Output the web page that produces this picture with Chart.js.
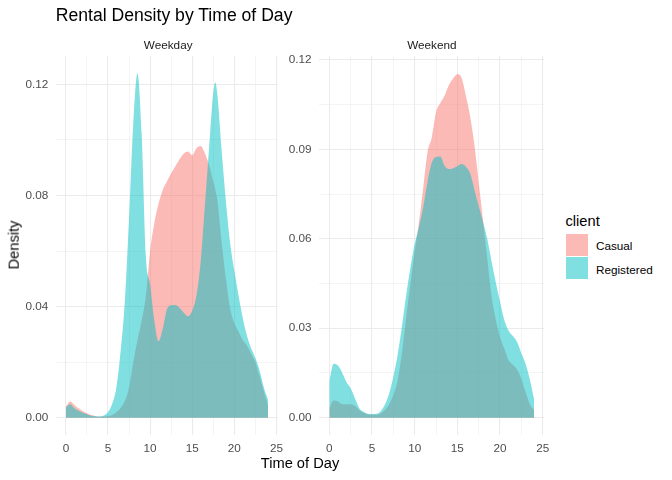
<!DOCTYPE html>
<html>
<head>
<meta charset="utf-8">
<script src="https://cdn.jsdelivr.net/npm/chart.js@4.4.1/dist/chart.umd.min.js"></script>
<style>
  body { margin: 0; background: #fff; font-family: "Liberation Sans", Arial, sans-serif; }
  #wrap { position: relative; width: 672px; height: 480px; overflow: hidden; background: #fff; }
  canvas { position: absolute; top: 0; }
  .txt { position: absolute; white-space: nowrap; line-height: 1; }
  .key { position: absolute; width: 22.3px; height: 21.7px; }
</style>
</head>
<body>
<div id="wrap">
  <canvas id="weekday" width="290" height="480" style="left:0px"></canvas>
  <canvas id="weekend" width="280" height="480" style="left:280px"></canvas>

  <div class="txt" style="left:55.8px; top:7.4px; font-size:17.6px; color:#000;">Rental Density by Time of Day</div>
  <div class="txt" style="left:168.2px; top:38.5px; font-size:11.73px; color:#1a1a1a; transform:translateX(-50%);">Weekday</div>
  <div class="txt" style="left:431.8px; top:38.5px; font-size:11.73px; color:#1a1a1a; transform:translateX(-50%);">Weekend</div>
  <div class="txt" style="left:13.6px; top:245.2px; font-size:14.67px; color:#000; transform:translate(-50%,-50%) rotate(-90deg);">Density</div>
  <div class="txt" style="left:300px; top:455.8px; font-size:14.67px; color:#000; transform:translateX(-50%);">Time of Day</div>

  <div class="txt" style="left:565.5px; top:213.6px; font-size:14.67px; color:#000;">client</div>
  <div class="key" style="left:566px; top:234px; background:rgba(248,118,109,0.5);"></div>
  <div class="key" style="left:566px; top:257.3px; background:rgba(0,191,196,0.5);"></div>
  <div class="txt" style="left:596px; top:240.3px; font-size:11.73px; color:#000;">Casual</div>
  <div class="txt" style="left:596px; top:264px; font-size:11.73px; color:#000;">Registered</div>
</div>

<script>
// hour of day (x) for each panel
const weekdayHours = [0, 0.5, 1, 1.5, 2, 2.5, 3, 3.5, 4, 4.5,
  5, 5.5, 6, 6.5, 7, 7.5, 8, 8.5, 9, 9.5,
  10, 10.5, 11, 11.5, 12, 12.5, 13, 13.5, 14, 14.5,
  15, 15.5, 16, 16.5, 17, 17.5, 17.75, 18, 18.5, 19,
  19.5, 20, 20.5, 21, 21.5, 22, 22.5, 23, 23.5, 24];

const weekdayCasual = [0.0040, 0.0058, 0.0046, 0.0034, 0.0024, 0.0016, 0.0010, 0.0006, 0.0004, 0.0004,
  0.0006, 0.0010, 0.0020, 0.0035, 0.0060, 0.0110, 0.0200, 0.0280, 0.0350, 0.0440,
  0.0600, 0.0700, 0.0770, 0.0820, 0.0850, 0.0880, 0.0905, 0.0930, 0.0950, 0.0958,
  0.0945, 0.0970, 0.0978, 0.0952, 0.0910, 0.0850, 0.0820, 0.0780, 0.0630, 0.0500,
  0.0395, 0.0340, 0.0310, 0.0280, 0.0260, 0.0230, 0.0200, 0.0150, 0.0095, 0.0045];

const weekdayRegistered = [0.0036, 0.0048, 0.0034, 0.0025, 0.0018, 0.0012, 0.0007, 0.0005, 0.0004, 0.0008,
  0.0020, 0.0050, 0.0110, 0.0240, 0.0420, 0.0720, 0.1060, 0.1240, 0.1020, 0.0580,
  0.0480, 0.0350, 0.0275, 0.0320, 0.0390, 0.0405, 0.0406, 0.0395, 0.0378, 0.0365,
  0.0385, 0.0440, 0.0560, 0.0760, 0.0970, 0.1170, 0.1207, 0.1160, 0.0960, 0.0780,
  0.0630, 0.0530, 0.0440, 0.0360, 0.0295, 0.0250, 0.0215, 0.0170, 0.0110, 0.0065];

const weekendHours = [0, 0.5, 1, 1.5, 2, 2.5, 3, 3.5, 4, 4.5,
  5, 5.5, 6, 6.5, 7, 7.5, 8, 8.5, 9, 9.5,
  10, 10.5, 11, 11.5, 12, 12.5, 13, 13.5, 14, 14.5,
  15, 15.5, 16, 16.5, 17, 17.5, 18, 18.5, 19, 19.5,
  20, 20.5, 21, 21.5, 22, 22.5, 23, 23.5, 24];

const weekendCasual = [0.0032, 0.0058, 0.0055, 0.0045, 0.0045, 0.0045, 0.0040, 0.0026, 0.0017, 0.0011,
  0.0010, 0.0010, 0.0014, 0.0026, 0.0044, 0.0076, 0.0125, 0.0215, 0.0335, 0.0450,
  0.0555, 0.0655, 0.0770, 0.0890, 0.0940, 0.1025, 0.1055, 0.1080, 0.1115, 0.1138,
  0.1152, 0.1140, 0.1080, 0.1010, 0.0915, 0.0790, 0.0663, 0.0535, 0.0410, 0.0330,
  0.0270, 0.0232, 0.0193, 0.0178, 0.0162, 0.0130, 0.0085, 0.0045, 0.0025];

const weekendRegistered = [0.0121, 0.0181, 0.0175, 0.0151, 0.0120, 0.0099, 0.0065, 0.0032, 0.0020, 0.0013,
  0.0012, 0.0013, 0.0021, 0.0043, 0.0080, 0.0137, 0.0210, 0.0305, 0.0410, 0.0503,
  0.0582, 0.0640, 0.0706, 0.0790, 0.0855, 0.0875, 0.0876, 0.0845, 0.0834, 0.0837,
  0.0844, 0.0851, 0.0842, 0.0820, 0.0765, 0.0710, 0.0657, 0.0600, 0.0526, 0.0454,
  0.0389, 0.0328, 0.0292, 0.0274, 0.0254, 0.0216, 0.0180, 0.0127, 0.0060];

const clientNames = ['Casual', 'Registered'];
const xTickStep = 2.5;     // minor grid every 2.5, labels every 5

Chart.defaults.font.family = "'Liberation Sans', Arial, sans-serif";

function onStep(v, step) {
  return Math.abs(v / step - Math.round(v / step)) < 1e-6;
}

function pairs(hours, vals) {
  return hours.map((h, i) => ({ x: h, y: vals[i] }));
}

function makePanel(id, hours, casual, registered, yMin, yMax, yStep, yMajor, padRight, yWidth) {
  const ctx = document.getElementById(id).getContext('2d');
  return new Chart(ctx, {
    type: 'line',
    data: {
      datasets: [{
        label: clientNames[0],
        data: pairs(hours, casual),
        backgroundColor: 'rgba(248,118,109,0.5)',
        borderColor: 'rgba(0,0,0,0)',
        borderWidth: 0,
        pointRadius: 0,
        fill: 'origin',
        cubicInterpolationMode: 'monotone',
        order: 2
      }, {
        label: clientNames[1],
        data: pairs(hours, registered),
        backgroundColor: 'rgba(0,191,196,0.5)',
        borderColor: 'rgba(0,0,0,0)',
        borderWidth: 0,
        pointRadius: 0,
        fill: 'origin',
        cubicInterpolationMode: 'monotone',
        order: 1
      }]
    },
    options: {
      responsive: false,
      animation: false,
      events: [],
      layout: { padding: { top: 56, right: padRight, bottom: 0, left: 0 } },
      plugins: { legend: { display: false }, tooltip: { enabled: false } },
      scales: {
        x: {
          type: 'linear',
          min: -1.2,
          max: 25.2,
          afterFit: s => { s.height = 45.5; },
          border: { display: false },
          grid: {
            color: '#ebebeb',
            drawTicks: false,
            lineWidth: c => onStep(c.tick.value, 5) ? 1.1 : 0.55
          },
          ticks: {
            stepSize: xTickStep,
            includeBounds: false,
            autoSkip: false,
            maxRotation: 0,
            padding: 7,
            color: '#4d4d4d',
            font: { size: 11.73 },
            callback: v => onStep(v, 5) ? String(v) : ''
          }
        },
        y: {
          min: yMin,
          max: yMax,
          afterFit: s => { s.width = yWidth; },
          border: { display: false },
          grid: {
            color: '#ebebeb',
            drawTicks: false,
            lineWidth: c => onStep(c.tick.value, yMajor) ? 1.1 : 0.55
          },
          ticks: {
            stepSize: yStep,
            includeBounds: false,
            autoSkip: false,
            padding: 7.5,
            color: '#4d4d4d',
            font: { size: 11.73 },
            callback: v => onStep(v, yMajor) ? v.toFixed(2) : ''
          }
        }
      }
    }
  });
}

makePanel('weekday', weekdayHours, weekdayCasual, weekdayRegistered, -0.00605, 0.1302, 0.02, 0.04, 9.3, 55.8);
makePanel('weekend', weekendHours, weekendCasual, weekendRegistered, -0.00564, 0.12135, 0.015, 0.03, 15.6, 39.1);
</script>
</body>
</html>
